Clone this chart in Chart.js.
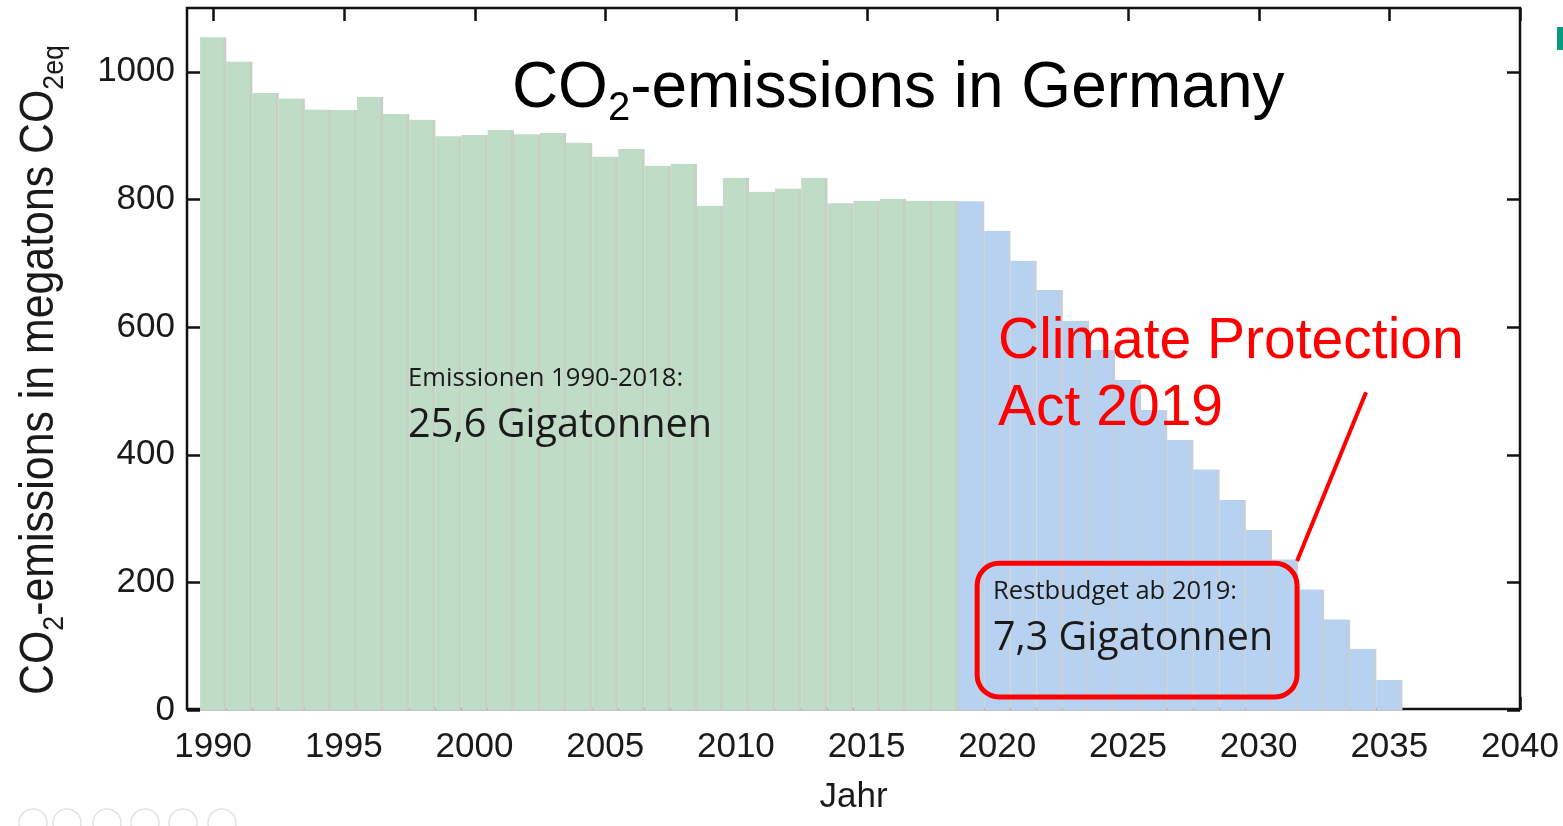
<!DOCTYPE html>
<html>
<head>
<meta charset="utf-8">
<title>CO2-emissions in Germany</title>
<script src="https://cdn.jsdelivr.net/npm/chart.js@4.4.0/dist/chart.umd.min.js"></script>
<style>
  html, body { margin: 0; padding: 0; background: #ffffff; }
  #wrap { width: 1563px; height: 826px; position: relative; overflow: hidden; }
</style>
</head>
<body>
<div id="wrap"><canvas id="chart" width="1563" height="826"></canvas></div>
<script>
// Annual emissions 1990-2018 (megatons CO2eq)
const historicYears = [1990, 1991, 1992, 1993, 1994, 1995, 1996, 1997, 1998, 1999,
                       2000, 2001, 2002, 2003, 2004, 2005, 2006, 2007, 2008, 2009,
                       2010, 2011, 2012, 2013, 2014, 2015, 2016, 2017, 2018];
const historicValues = [1054, 1016, 967, 958, 941, 940, 961, 934, 925, 899,
                        901, 909, 902, 904, 889, 867, 879, 853, 856, 790,
                        834, 812, 817, 834, 794, 798, 801, 798, 798];

// Remaining budget path from 2019 on
const budgetYears = [2019, 2020, 2021, 2022, 2023, 2024, 2025, 2026, 2027,
                     2028, 2029, 2030, 2031, 2032, 2033, 2034, 2035];
const budgetValues = [797, 751, 704, 658, 610, 564, 517, 470, 423,
                      377, 329, 282, 236, 189, 142, 96, 47];

// Axis ticks
const xTicks = [1990, 1995, 2000, 2005, 2010, 2015, 2020, 2025, 2030, 2035, 2040];
const yTicks = [0, 200, 400, 600, 800, 1000];

const SANS = '"Liberation Sans", Arial, Helvetica, sans-serif';
const NOTE = '"Open Sans", "Noto Sans", sans-serif';
const INK = '#1a1a1a';
const RED = '#ff0000';

// Text with subscript runs: parts = [[text, isSub], ...]
function richWidth(ctx, parts, size, family) {
  let w = 0;
  for (const [t, sub] of parts) {
    ctx.font = (sub ? Math.round(size * 0.62) : size) + 'px ' + family;
    w += ctx.measureText(t).width;
  }
  return w;
}
function drawRich(ctx, parts, size, family) {
  let x = 0;
  for (const [t, sub] of parts) {
    ctx.font = (sub ? Math.round(size * 0.62) : size) + 'px ' + family;
    ctx.fillText(t, x, sub ? size * 0.2 : 0);
    x += ctx.measureText(t).width;
  }
}
// Plain text stretched/condensed horizontally to a given width
function fitText(ctx, text, x, y, font, width, color) {
  ctx.save();
  ctx.font = font;
  ctx.fillStyle = color;
  ctx.textAlign = 'left';
  ctx.textBaseline = 'alphabetic';
  const w = ctx.measureText(text).width;
  ctx.translate(x, y);
  ctx.scale(width / w, 1);
  ctx.fillText(text, 0, 0);
  ctx.restore();
}

// Box frame with inward tick marks on all four sides
const framePlugin = {
  id: 'frame',
  beforeDatasetsDraw(chart) {
    const { ctx, chartArea: a, scales: { x, y } } = chart;
    ctx.save();
    ctx.strokeStyle = '#111111';
    ctx.lineWidth = 2.5;
    ctx.strokeRect(a.left, a.top, a.right - a.left, a.bottom - a.top - 1);
    const tl = 13;
    ctx.beginPath();
    for (const v of yTicks) {
      const py = Math.round(y.getPixelForValue(v)) + 0.5;
      ctx.moveTo(a.left, py); ctx.lineTo(a.left + tl, py);
      ctx.moveTo(a.right, py); ctx.lineTo(a.right - tl, py);
    }
    for (const v of xTicks) {
      const px = Math.round(x.getPixelForValue(v)) + 0.5;
      ctx.moveTo(px, a.top); ctx.lineTo(px, a.top + tl);
      ctx.moveTo(px, a.bottom); ctx.lineTo(px, a.bottom - tl);
    }
    ctx.stroke();
    ctx.restore();
  }
};

// Headline, axis title, notes and callout
const notesPlugin = {
  id: 'notes',
  afterDatasetsDraw(chart) {
    const { ctx, scales: { x, y } } = chart;
    const X = v => x.getPixelForValue(v);
    const Y = v => y.getPixelForValue(v);
    ctx.save();
    ctx.textAlign = 'left';
    ctx.textBaseline = 'alphabetic';

    // headline
    ctx.fillStyle = '#000000';
    ctx.save();
    ctx.translate(X(2001.43), Y(944.9));
    drawRich(ctx, [['CO', false], ['2', true], ['-emissions in Germany', false]], 64, SANS);
    ctx.restore();

    // vertical axis title (condensed)
    const yTitle = [['CO', false], ['2', true], ['-emissions in megatons CO', false], ['2eq', true]];
    const ySize = 48;
    const yw = richWidth(ctx, yTitle, ySize, SANS);
    ctx.save();
    ctx.translate(53, 695);
    ctx.rotate(-Math.PI / 2);
    ctx.scale(650 / yw, 1);
    ctx.fillStyle = INK;
    drawRich(ctx, yTitle, ySize, SANS);
    ctx.restore();

    // historic total
    fitText(ctx, 'Emissionen 1990-2018:', X(1997.46), Y(507.7), '26px ' + NOTE, 275, INK);
    fitText(ctx, '25,6 Gigatonnen', X(1997.46), Y(427.8), '41px ' + NOTE, 304, INK);

    // remaining budget box
    const bx0 = X(2019.23), bx1 = X(2031.47), by0 = Y(230), by1 = Y(20.4);
    ctx.strokeStyle = RED;
    ctx.lineWidth = 5;
    ctx.beginPath();
    ctx.roundRect(bx0, by0, bx1 - bx0, by1 - by0, 22);
    ctx.stroke();
    fitText(ctx, 'Restbudget ab 2019:', X(2019.84), Y(173.9), '26px ' + NOTE, 244, INK);
    fitText(ctx, '7,3 Gigatonnen', X(2019.84), Y(94), '41px ' + NOTE, 280, INK);

    // callout
    ctx.lineWidth = 4;
    ctx.beginPath();
    ctx.moveTo(X(2031.47), Y(233.5));
    ctx.lineTo(X(2034.11), Y(498));
    ctx.stroke();
    ctx.fillStyle = RED;
    ctx.font = '57px ' + SANS;
    ctx.fillText('Climate Protection', X(2020.03), Y(551.6));
    ctx.fillText('Act 2019', X(2020.03), Y(446.6));
    ctx.restore();

    // page furniture: faint licence badges and edge marker
    ctx.save();
    ctx.strokeStyle = '#e4e4e4';
    ctx.lineWidth = 1.5;
    for (const cx of [33, 67, 107, 145, 183, 222]) {
      ctx.beginPath();
      ctx.arc(cx, 823, 14, 0, Math.PI * 2);
      ctx.stroke();
    }
    ctx.fillStyle = '#0a9a7e';
    ctx.fillRect(1557, 27, 6, 23);
    ctx.restore();
  }
};

const barStyle = {
  grouped: false,
  barPercentage: 1,
  categoryPercentage: 1,
  borderSkipped: false
};

new Chart(document.getElementById('chart'), {
  type: 'bar',
  data: {
    datasets: [
      Object.assign({
        label: 'Emissionen 1990-2018',
        data: historicYears.map((yr, i) => ({ x: yr, y: historicValues[i] })),
        backgroundColor: '#bfdcc6',
        borderColor: '#c8cfc6',
        borderWidth: { left: 0, right: 3, top: 0, bottom: 0 }
      }, barStyle),
      Object.assign({
        label: 'Restbudget ab 2019',
        data: budgetYears.map((yr, i) => ({ x: yr, y: budgetValues[i] })),
        backgroundColor: '#b7d2f1',
        borderColor: '#c5cfdc',
        borderWidth: { left: 0, right: 3, top: 0, bottom: 0 }
      }, barStyle)
    ]
  },
  options: {
    responsive: false,
    animation: false,
    devicePixelRatio: 1,
    layout: { padding: { left: 0, right: 43, top: 8, bottom: 0 } },
    plugins: { legend: { display: false }, tooltip: { enabled: false } },
    scales: {
      x: {
        type: 'linear',
        min: 1989,
        max: 2040,
        offset: false,
        grid: { display: false, drawTicks: false },
        border: { display: false },
        afterBuildTicks: s => { s.ticks = xTicks.map(v => ({ value: v })); },
        afterFit: s => { s.height = 116; s.paddingLeft = 0; s.paddingRight = 0; },
        ticks: {
          font: { family: SANS, size: 35 },
          color: INK,
          padding: 16,
          maxRotation: 0,
          autoSkip: false,
          callback: v => String(v)
        },
        title: {
          display: true,
          text: 'Jahr',
          font: { family: SANS, size: 35 },
          color: INK,
          padding: { top: 0, bottom: 8 }
        }
      },
      y: {
        min: 0,
        max: 1100,
        grid: { display: false, drawTicks: false },
        border: { display: false },
        afterBuildTicks: s => { s.ticks = yTicks.map(v => ({ value: v })); },
        afterFit: s => { s.width = 187; s.paddingTop = 0; s.paddingBottom = 0; },
        ticks: {
          font: { family: SANS, size: 35 },
          color: INK,
          padding: 12,
          callback: v => String(v)
        }
      }
    }
  },
  plugins: [framePlugin, notesPlugin]
});
</script>
</body>
</html>
